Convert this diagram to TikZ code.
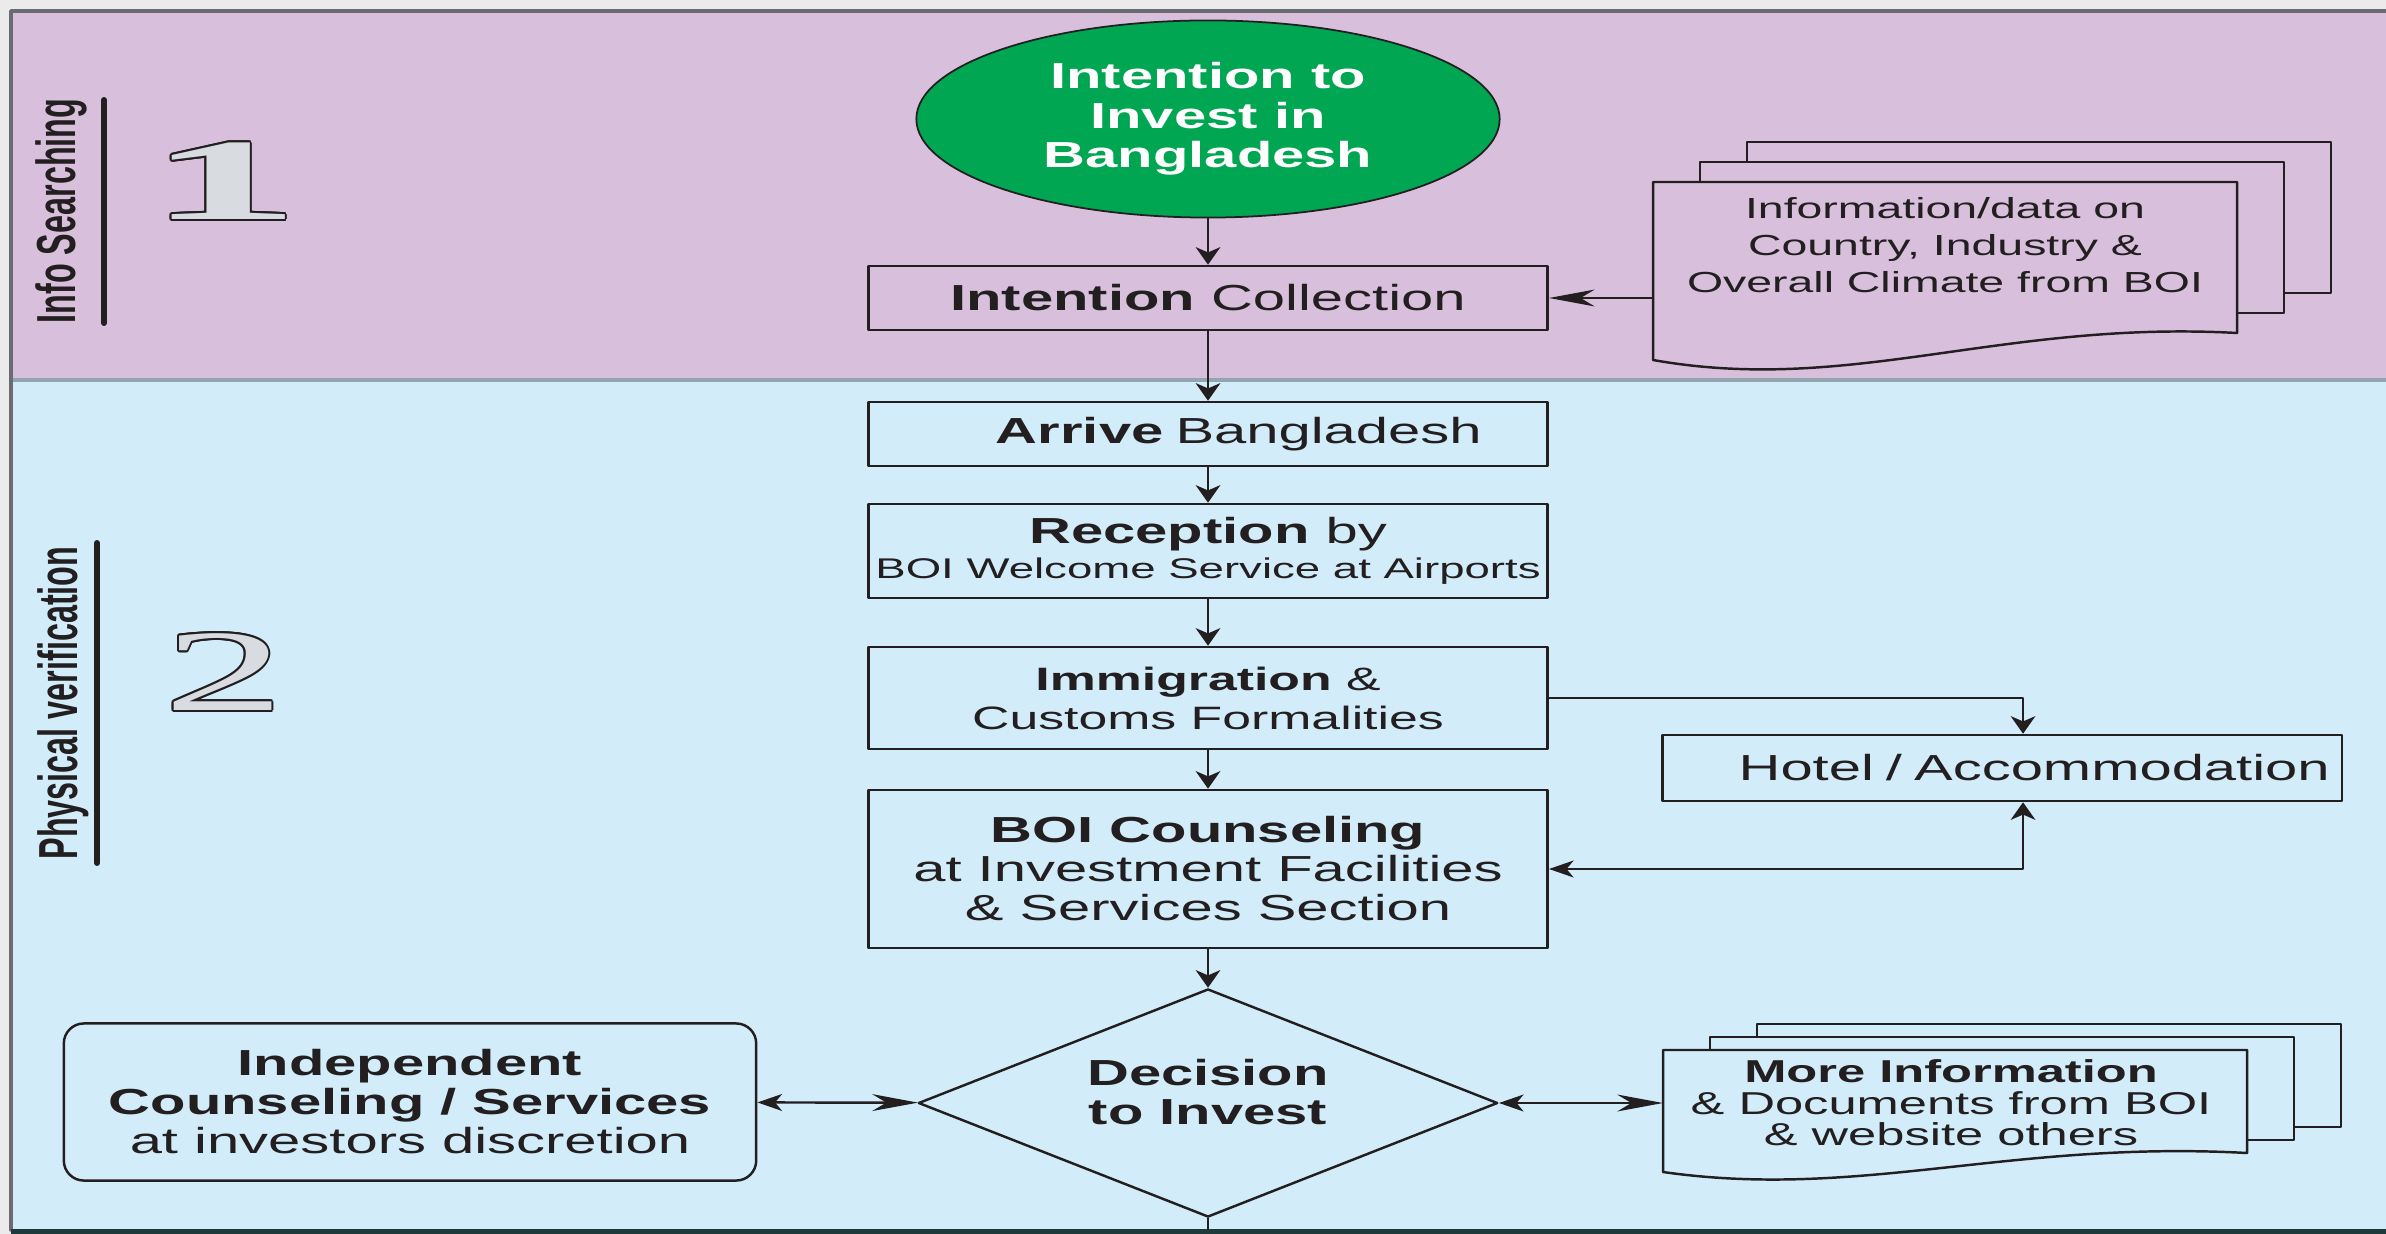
\documentclass[tikz,border=0pt]{standalone}
\usepackage{fontspec}
\setmainfont{Liberation Sans}[FakeStretch=1.6]
\newfontfamily\sidefont{Liberation Sans}
\newfontfamily\numfont{Liberation Serif}
\usetikzlibrary{arrows.meta,shapes.geometric}
\definecolor{pinkbg}{HTML}{D8C0DD}
\definecolor{bluebg}{HTML}{D2EDF9}
\definecolor{greenell}{HTML}{00A651}
\definecolor{numgray}{HTML}{D8DBE0}
\definecolor{margin}{HTML}{EBEBEB}
\definecolor{ink}{HTML}{231F20}
\definecolor{framegray}{HTML}{6A6A70}
\definecolor{seam}{HTML}{93A6B0}
\definecolor{bottomline}{HTML}{1F3A3B}
\begin{document}
\begin{tikzpicture}[x=0.01cm,y=-0.01cm,line join=round,line cap=round,
	font=\fontsize{10.3}{11.1}\selectfont,
	flowbox/.style={draw=ink,line width=0.7pt,minimum width=6.79cm,inner sep=0pt,align=center,text=ink},
	docline/.style={draw=ink,line width=0.7pt},
	sidelabel/.style={inner sep=0pt,text=ink,font=\sidefont\bfseries\fontsize{9.2}{11}\selectfont},
	bignum/.style={inner sep=0pt,font=\numfont\fontsize{33}{33}\selectfont},
	vflow/.style={draw=ink,line width=0.7pt,-{Stealth[length=5pt,width=7pt,inset=1.5pt]}},
	wideflow/.style={draw=ink,line width=0.7pt,-{Stealth[length=13pt,width=4.8pt,inset=4pt]}},
	twoway/.style={draw=ink,line width=0.7pt,{Stealth[length=7pt,width=4.8pt,inset=2pt]}-{Stealth[length=13pt,width=4.8pt,inset=4pt]}},
	hotelback/.style={draw=ink,line width=0.7pt,{Stealth[length=7pt,width=4.8pt,inset=2pt]}-{Stealth[length=5pt,width=7pt,inset=1.5pt]}}]
	\useasboundingbox (0,0) rectangle (2386,1234);
	% the two bands
	\fill[margin] (0,0) rectangle (2386,1234);
	\fill[pinkbg] (11,11) rectangle (2386,380);
	\fill[bluebg] (11,380) rectangle (2386,1230);
	\draw[seam,line width=1.1pt] (11,380)--(2386,380);
	\draw[framegray,line width=1pt] (11,1230)--(11,11)--(2386,11);
	\fill[bottomline] (11,1229) rectangle (2386,1234);
	% side labels
	\node[sidelabel] (infolab) at (61,211) {\scalebox{1.7}[1]{\rotatebox{90}{Info Searching}}};
	\draw[ink,line width=1.7pt] (104,100)--(104,323);
	\node[sidelabel] (physlab) at (63,703) {\scalebox{1.7}[1]{\rotatebox{90}{Physical verification}}};
	\draw[ink,line width=1.7pt] (97,543)--(97,863);
	% outlined step numbers
	\foreach \a in {0,30,...,330}{
		\node[bignum,text=ink,shift={(\a:2)}] (oneedge\a) at (224,181) {\scalebox{2.65}[1]{\bfseries 1}};
		\node[bignum,text=ink,shift={(\a:2)}] (twoedge\a) at (224,672) {\scalebox{2.1}[1]{2}};
	}
	\node[bignum,text=numgray] (one) at (224,181) {\scalebox{2.65}[1]{\bfseries 1}};
	\node[bignum,text=numgray] (two) at (224,672) {\scalebox{2.1}[1]{2}};
	% main column
	\node[draw=ink,line width=0.5pt,fill=greenell,ellipse,minimum width=5.83cm,minimum height=1.97cm,inner sep=0pt,align=center,text=white,font=\fontsize{10.3}{11.2}\selectfont\bfseries] (intent) at (1208,119) {Intention to\\Invest in\\Bangladesh};
	\node[flowbox,minimum height=0.64cm] (collect) at (1208,298) {\textbf{Intention} Collection};
	\node[flowbox,minimum height=0.64cm,text width=5.47cm,inner xsep=0.66cm,align=right] (arrive) at (1208,434) {\textbf{Arrive} Bangladesh};
	\node[flowbox,minimum height=0.94cm] (recept) at (1208,551) {\textbf{Reception} by\\[-1.2pt]{\fontsize{8.1}{9.5}\selectfont BOI Welcome Service at Airports}};
	\node[flowbox,minimum height=1.02cm,font=\fontsize{9.2}{11.1}\selectfont] (immig) at (1208,698) {\textbf{Immigration} \&\\Customs Formalities};
	\node[flowbox,minimum height=1.58cm] (counsel) at (1208,869) {\textbf{BOI Counseling}\\at Investment Facilities\\\& Services Section};
	\node[draw=ink,line width=0.7pt,diamond,aspect=2.5,minimum width=5.79cm,minimum height=2.28cm,inner sep=0pt,text depth=0.22cm,align=center,text=ink,font=\fontsize{10.3}{11.1}\selectfont\bfseries] (decide) at (1208,1103) {Decision\\to Invest};
	% side boxes
	\node[flowbox,minimum width=6.92cm,minimum height=1.57cm,rounded corners=0.2cm] (indep) at (410,1102) {\textbf{Independent}\\\textbf{Counseling / Services}\\at investors discretion};
	\node[flowbox,minimum height=0.66cm,text width=6.55cm,inner xsep=0.12cm,align=right] (hotel) at (2002,768) {Hotel / Accommodation};
	% document stacks
	\foreach \k in {2,1}
		\draw[docline,fill=pinkbg] (1653+47*\k,182-20*\k) rectangle (2237+47*\k,333-20*\k);
	\draw[docline,fill=pinkbg] (1653,182)--(2237,182)--(2237,333) .. controls (2000,320) and (1850,395) .. (1653,360)--cycle;
	\node[text=ink,align=center,font=\fontsize{8.25}{10.5}\selectfont] (infodoc) at (1945,245) {Information/data on\\Country, Industry \&\\Overall Climate from BOI};
	\foreach \k in {2,1}
		\draw[docline,fill=bluebg] (1663+47*\k,1050-13*\k) rectangle (2247+47*\k,1153-13*\k);
	\draw[docline,fill=bluebg] (1663,1050)--(2247,1050)--(2247,1153) .. controls (2010,1140) and (1860,1200) .. (1663,1172)--cycle;
	\node[text=ink,align=center,font=\fontsize{9}{9}\selectfont] (moredoc) at (1951,1103) {\textbf{More Information}\\\& Documents from BOI\\\& website others};
	% connectors
	\coordinate (infoin) at (1653,298);
	\coordinate (morein) at (1663,1103);
	\coordinate (exit) at (1208,1229);
	\draw[vflow] (intent)--(collect);
	\foreach \a/\b in {collect/arrive,arrive/recept,recept/immig,immig/counsel,counsel/decide}
		\draw[vflow] (\a)--(\b);
	\draw[wideflow] (infoin)--(collect);
	\draw[vflow] (immig.east) -| ([xshift=0.21cm]hotel.north);
	\draw[hotelback] (counsel.east) -| ([xshift=0.21cm]hotel.south);
	\draw[twoway] (indep)--(decide);
	\draw[twoway] (decide)--(morein);
	\draw[ink,line width=0.7pt] (decide)--(exit);
\end{tikzpicture}
\end{document}
